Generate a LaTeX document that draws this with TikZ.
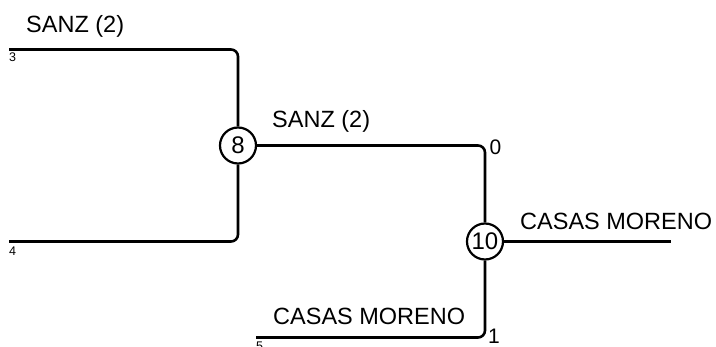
\documentclass[tikz,border=0pt]{standalone}
\usepackage{fontspec}
\setmainfont{Liberation Sans}
\begin{document}
\begin{tikzpicture}[x=1pt,y=-1pt,
  wire/.style={line width=2.6pt,rounded corners=7pt},
  matchnode/.style={circle,draw,line width=2.2pt,minimum size=36pt,inner sep=0pt,
    font=\fontsize{24}{24}\selectfont},
  playerlabel/.style={anchor=base west,inner sep=0pt,font=\fontsize{23.5}{24}\selectfont},
  seedlabel/.style={anchor=base west,inner sep=0pt,font=\fontsize{12.5}{13}\selectfont},
  slotlabel/.style={anchor=base west,inner sep=0pt,font=\fontsize{21}{21}\selectfont}]
\useasboundingbox (0,0) rectangle (716,347);
\node[matchnode] (n8) at (238,145.5) {8};
\node[matchnode] (n10) at (485,241.5) {10};
\coordinate (l3) at (9,49.5);
\coordinate (l4) at (9,241.5);
\coordinate (l5) at (256,337.5);
\coordinate (out) at (671,241.5);
\draw[wire] (l3) -| (n8);
\draw[wire] (l4) -| (n8);
\draw[wire] (n8) -| (n10);
\draw[wire] (l5) -| (n10);
\draw[wire] (n10) -- (out);
\node[playerlabel] (t1) at (26,33) {SANZ (2)};
\node[playerlabel] (t2) at (272,128) {SANZ (2)};
\node[playerlabel] (t3) at (520,230) {CASAS MORENO};
\node[playerlabel] (t4) at (273,325) {CASAS MORENO};
\node[seedlabel] (s3) at (9,62) {3};
\node[seedlabel] (s4) at (9,256) {4};
\node[seedlabel] (s5) at (256,351) {5};
\node[slotlabel] (p0) at (489.5,155) {0};
\node[slotlabel] (p1) at (488,344) {1};
\end{tikzpicture}
\end{document}
